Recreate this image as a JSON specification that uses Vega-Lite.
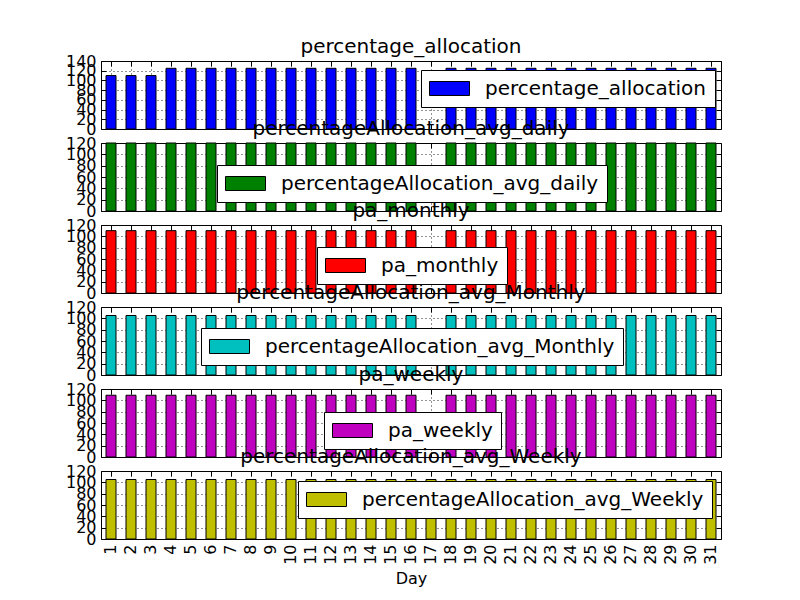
{
  "$schema": "https://vega.github.io/schema/vega-lite/v6.json",
  "background": "white",
  "padding": {"left": 64, "top": 36, "right": 5, "bottom": 5},
  "bounds": "flush",
  "spacing": 14,
  "data": {"values": [
    {"Day":1,"pa":110,"avg_daily":120,"pa_monthly":110,"avg_monthly":105,"pa_weekly":109,"avg_weekly":105},
    {"Day":2,"pa":110,"avg_daily":120,"pa_monthly":110,"avg_monthly":105,"pa_weekly":109,"avg_weekly":105},
    {"Day":3,"pa":110,"avg_daily":120,"pa_monthly":110,"avg_monthly":105,"pa_weekly":109,"avg_weekly":105},
    {"Day":4,"pa":125,"avg_daily":120,"pa_monthly":110,"avg_monthly":105,"pa_weekly":109,"avg_weekly":105},
    {"Day":5,"pa":125,"avg_daily":120,"pa_monthly":110,"avg_monthly":105,"pa_weekly":109,"avg_weekly":105},
    {"Day":6,"pa":125,"avg_daily":120,"pa_monthly":110,"avg_monthly":105,"pa_weekly":109,"avg_weekly":105},
    {"Day":7,"pa":125,"avg_daily":120,"pa_monthly":110,"avg_monthly":105,"pa_weekly":109,"avg_weekly":105},
    {"Day":8,"pa":125,"avg_daily":120,"pa_monthly":110,"avg_monthly":105,"pa_weekly":109,"avg_weekly":105},
    {"Day":9,"pa":125,"avg_daily":120,"pa_monthly":110,"avg_monthly":105,"pa_weekly":109,"avg_weekly":105},
    {"Day":10,"pa":125,"avg_daily":120,"pa_monthly":110,"avg_monthly":105,"pa_weekly":109,"avg_weekly":105},
    {"Day":11,"pa":125,"avg_daily":120,"pa_monthly":110,"avg_monthly":105,"pa_weekly":109,"avg_weekly":105},
    {"Day":12,"pa":125,"avg_daily":120,"pa_monthly":110,"avg_monthly":105,"pa_weekly":109,"avg_weekly":105},
    {"Day":13,"pa":125,"avg_daily":120,"pa_monthly":110,"avg_monthly":105,"pa_weekly":109,"avg_weekly":105},
    {"Day":14,"pa":125,"avg_daily":120,"pa_monthly":110,"avg_monthly":105,"pa_weekly":109,"avg_weekly":105},
    {"Day":15,"pa":125,"avg_daily":120,"pa_monthly":110,"avg_monthly":105,"pa_weekly":109,"avg_weekly":105},
    {"Day":16,"pa":125,"avg_daily":120,"pa_monthly":110,"avg_monthly":105,"pa_weekly":109,"avg_weekly":105},
    {"Day":17,"pa":null,"avg_daily":null,"pa_monthly":null,"avg_monthly":null,"pa_weekly":null,"avg_weekly":105},
    {"Day":18,"pa":125,"avg_daily":120,"pa_monthly":110,"avg_monthly":105,"pa_weekly":109,"avg_weekly":105},
    {"Day":19,"pa":125,"avg_daily":120,"pa_monthly":110,"avg_monthly":105,"pa_weekly":109,"avg_weekly":105},
    {"Day":20,"pa":125,"avg_daily":120,"pa_monthly":110,"avg_monthly":105,"pa_weekly":109,"avg_weekly":105},
    {"Day":21,"pa":125,"avg_daily":120,"pa_monthly":110,"avg_monthly":105,"pa_weekly":109,"avg_weekly":105},
    {"Day":22,"pa":125,"avg_daily":120,"pa_monthly":110,"avg_monthly":105,"pa_weekly":109,"avg_weekly":105},
    {"Day":23,"pa":125,"avg_daily":120,"pa_monthly":110,"avg_monthly":105,"pa_weekly":109,"avg_weekly":105},
    {"Day":24,"pa":125,"avg_daily":120,"pa_monthly":110,"avg_monthly":105,"pa_weekly":109,"avg_weekly":105},
    {"Day":25,"pa":125,"avg_daily":120,"pa_monthly":110,"avg_monthly":105,"pa_weekly":109,"avg_weekly":105},
    {"Day":26,"pa":125,"avg_daily":120,"pa_monthly":110,"avg_monthly":105,"pa_weekly":109,"avg_weekly":105},
    {"Day":27,"pa":125,"avg_daily":120,"pa_monthly":110,"avg_monthly":105,"pa_weekly":109,"avg_weekly":105},
    {"Day":28,"pa":125,"avg_daily":120,"pa_monthly":110,"avg_monthly":105,"pa_weekly":109,"avg_weekly":105},
    {"Day":29,"pa":125,"avg_daily":120,"pa_monthly":110,"avg_monthly":105,"pa_weekly":109,"avg_weekly":105},
    {"Day":30,"pa":125,"avg_daily":120,"pa_monthly":110,"avg_monthly":105,"pa_weekly":109,"avg_weekly":105},
    {"Day":31,"pa":125,"avg_daily":120,"pa_monthly":110,"avg_monthly":105,"pa_weekly":109,"avg_weekly":105}
  ]},
  "config": {
    "font": "DejaVu Sans",
    "view": {"stroke": "black", "strokeWidth": 1},
    "axis": {"domain": false, "tickColor": "black", "tickSize": -5, "labelPadding": 10, "labelColor": "black", "labelFontSize": 16, "labelFont": "DejaVu Sans", "gridColor": "black", "gridDash": [1, 3], "gridWidth": 1, "gridOpacity": 0.85, "labelOverlap": false, "labelFlush": false, "labelBound": false, "zindex": 1, "titleFontWeight": "normal", "titleFontSize": 16, "titleColor": "black", "titleFont": "DejaVu Sans", "titlePadding": 6},
    "legend": {"orient": "none", "padding": 8, "fillColor": "white", "strokeColor": "black", "cornerRadius": 0, "symbolType": "M-1,-0.7L3,-0.7L3,0.7L-1,0.7Z", "symbolSize": 400, "symbolStrokeColor": "black", "symbolStrokeWidth": 1, "symbolOpacity": 1, "labelFontSize": 20, "labelOffset": 35, "labelLimit": 1000, "labelColor": "black", "labelFont": "DejaVu Sans", "zindex": 2},
    "title": {"fontSize": 20, "fontWeight": "normal", "color": "black", "font": "DejaVu Sans", "offset": -4, "anchor": "middle"}
  },
  "vconcat": [
    {
      "width": 620, "height": 68, "title": "percentage_allocation",
      "layer": [
        {"mark": {"type": "bar", "stroke": "black", "strokeWidth": 1},
         "encoding": {
           "x": {"field": "Day", "type": "ordinal", "scale": {"domain": [1,2,3,4,5,6,7,8,9,10,11,12,13,14,15,16,17,18,19,20,21,22,23,24,25,26,27,28,29,30,31], "paddingInner": 0.5, "paddingOuter": 0.25}, "axis": {"labels": false, "title": null, "grid": true, "bandPosition": 0.5}},
           "y": {"field": "pa", "type": "quantitative", "scale": {"domain": [0, 140], "nice": false}, "axis": {"values": [0,20,40,60,80,100,120,140], "grid": true, "title": null}},
           "color": {"datum": "percentage_allocation", "scale": {"range": ["#0000ff"]}, "legend": {"title": null, "legendX": 320, "legendY": 9}}
         }},
        {"mark": {"type": "bar", "opacity": 0},
         "encoding": {
           "x": {"field": "Day", "type": "ordinal", "axis": {"orient": "top", "labels": false, "title": null, "grid": false, "bandPosition": 0.5}},
           "y": {"field": "pa", "type": "quantitative", "axis": {"orient": "right", "labels": false, "title": null, "grid": false, "values": [0,20,40,60,80,100,120,140]}}
         }}
      ],
      "resolve": {"axis": {"x": "independent", "y": "independent"}}
    },
    {
      "width": 620, "height": 68, "title": "percentageAllocation_avg_daily",
      "layer": [
        {"mark": {"type": "bar", "stroke": "black", "strokeWidth": 1},
         "encoding": {
           "x": {"field": "Day", "type": "ordinal", "scale": {"domain": [1,2,3,4,5,6,7,8,9,10,11,12,13,14,15,16,17,18,19,20,21,22,23,24,25,26,27,28,29,30,31], "paddingInner": 0.5, "paddingOuter": 0.25}, "axis": {"labels": false, "title": null, "grid": true, "bandPosition": 0.5}},
           "y": {"field": "avg_daily", "type": "quantitative", "scale": {"domain": [0, 120], "nice": false}, "axis": {"values": [0,20,40,60,80,100,120], "grid": true, "title": null}},
           "color": {"datum": "percentageAllocation_avg_daily", "scale": {"range": ["#008000"]}, "legend": {"title": null, "legendX": 116, "legendY": 22}}
         }},
        {"mark": {"type": "bar", "opacity": 0},
         "encoding": {
           "x": {"field": "Day", "type": "ordinal", "axis": {"orient": "top", "labels": false, "title": null, "grid": false, "bandPosition": 0.5}},
           "y": {"field": "avg_daily", "type": "quantitative", "axis": {"orient": "right", "labels": false, "title": null, "grid": false, "values": [0,20,40,60,80,100,120]}}
         }}
      ],
      "resolve": {"axis": {"x": "independent", "y": "independent"}}
    },
    {
      "width": 620, "height": 68, "title": "pa_monthly",
      "layer": [
        {"mark": {"type": "bar", "stroke": "black", "strokeWidth": 1},
         "encoding": {
           "x": {"field": "Day", "type": "ordinal", "scale": {"domain": [1,2,3,4,5,6,7,8,9,10,11,12,13,14,15,16,17,18,19,20,21,22,23,24,25,26,27,28,29,30,31], "paddingInner": 0.5, "paddingOuter": 0.25}, "axis": {"labels": false, "title": null, "grid": true, "bandPosition": 0.5}},
           "y": {"field": "pa_monthly", "type": "quantitative", "scale": {"domain": [0, 120], "nice": false}, "axis": {"values": [0,20,40,60,80,100,120], "grid": true, "title": null}},
           "color": {"datum": "pa_monthly", "scale": {"range": ["#ff0000"]}, "legend": {"title": null, "legendX": 216, "legendY": 22}}
         }},
        {"mark": {"type": "bar", "opacity": 0},
         "encoding": {
           "x": {"field": "Day", "type": "ordinal", "axis": {"orient": "top", "labels": false, "title": null, "grid": false, "bandPosition": 0.5}},
           "y": {"field": "pa_monthly", "type": "quantitative", "axis": {"orient": "right", "labels": false, "title": null, "grid": false, "values": [0,20,40,60,80,100,120]}}
         }}
      ],
      "resolve": {"axis": {"x": "independent", "y": "independent"}}
    },
    {
      "width": 620, "height": 68, "title": "percentageAllocation_avg_Monthly",
      "layer": [
        {"mark": {"type": "bar", "stroke": "black", "strokeWidth": 1},
         "encoding": {
           "x": {"field": "Day", "type": "ordinal", "scale": {"domain": [1,2,3,4,5,6,7,8,9,10,11,12,13,14,15,16,17,18,19,20,21,22,23,24,25,26,27,28,29,30,31], "paddingInner": 0.5, "paddingOuter": 0.25}, "axis": {"labels": false, "title": null, "grid": true, "bandPosition": 0.5}},
           "y": {"field": "avg_monthly", "type": "quantitative", "scale": {"domain": [0, 120], "nice": false}, "axis": {"values": [0,20,40,60,80,100,120], "grid": true, "title": null}},
           "color": {"datum": "percentageAllocation_avg_Monthly", "scale": {"range": ["#00bfbf"]}, "legend": {"title": null, "legendX": 100, "legendY": 21}}
         }},
        {"mark": {"type": "bar", "opacity": 0},
         "encoding": {
           "x": {"field": "Day", "type": "ordinal", "axis": {"orient": "top", "labels": false, "title": null, "grid": false, "bandPosition": 0.5}},
           "y": {"field": "avg_monthly", "type": "quantitative", "axis": {"orient": "right", "labels": false, "title": null, "grid": false, "values": [0,20,40,60,80,100,120]}}
         }}
      ],
      "resolve": {"axis": {"x": "independent", "y": "independent"}}
    },
    {
      "width": 620, "height": 68, "title": "pa_weekly",
      "layer": [
        {"mark": {"type": "bar", "stroke": "black", "strokeWidth": 1},
         "encoding": {
           "x": {"field": "Day", "type": "ordinal", "scale": {"domain": [1,2,3,4,5,6,7,8,9,10,11,12,13,14,15,16,17,18,19,20,21,22,23,24,25,26,27,28,29,30,31], "paddingInner": 0.5, "paddingOuter": 0.25}, "axis": {"labels": false, "title": null, "grid": true, "bandPosition": 0.5}},
           "y": {"field": "pa_weekly", "type": "quantitative", "scale": {"domain": [0, 120], "nice": false}, "axis": {"values": [0,20,40,60,80,100,120], "grid": true, "title": null}},
           "color": {"datum": "pa_weekly", "scale": {"range": ["#bf00bf"]}, "legend": {"title": null, "legendX": 223, "legendY": 23}}
         }},
        {"mark": {"type": "bar", "opacity": 0},
         "encoding": {
           "x": {"field": "Day", "type": "ordinal", "axis": {"orient": "top", "labels": false, "title": null, "grid": false, "bandPosition": 0.5}},
           "y": {"field": "pa_weekly", "type": "quantitative", "axis": {"orient": "right", "labels": false, "title": null, "grid": false, "values": [0,20,40,60,80,100,120]}}
         }}
      ],
      "resolve": {"axis": {"x": "independent", "y": "independent"}}
    },
    {
      "width": 620, "height": 68, "title": "percentageAllocation_avg_Weekly",
      "layer": [
        {"mark": {"type": "bar", "stroke": "black", "strokeWidth": 1},
         "encoding": {
           "x": {"field": "Day", "type": "ordinal", "scale": {"domain": [1,2,3,4,5,6,7,8,9,10,11,12,13,14,15,16,17,18,19,20,21,22,23,24,25,26,27,28,29,30,31], "paddingInner": 0.5, "paddingOuter": 0.25}, "axis": {"labels": true, "labelAngle": 270, "title": "Day", "grid": true, "bandPosition": 0.5}},
           "y": {"field": "avg_weekly", "type": "quantitative", "scale": {"domain": [0, 120], "nice": false}, "axis": {"values": [0,20,40,60,80,100,120], "grid": true, "title": null}},
           "color": {"datum": "percentageAllocation_avg_Weekly", "scale": {"range": ["#bfbf00"]}, "legend": {"title": null, "legendX": 197, "legendY": 10}}
         }},
        {"mark": {"type": "bar", "opacity": 0},
         "encoding": {
           "x": {"field": "Day", "type": "ordinal", "axis": {"orient": "top", "labels": false, "title": null, "grid": false, "bandPosition": 0.5}},
           "y": {"field": "avg_weekly", "type": "quantitative", "axis": {"orient": "right", "labels": false, "title": null, "grid": false, "values": [0,20,40,60,80,100,120]}}
         }}
      ],
      "resolve": {"axis": {"x": "independent", "y": "independent"}}
    }
  ],
  "resolve": {"scale": {"color": "independent"}, "legend": {"color": "independent"}}
}
